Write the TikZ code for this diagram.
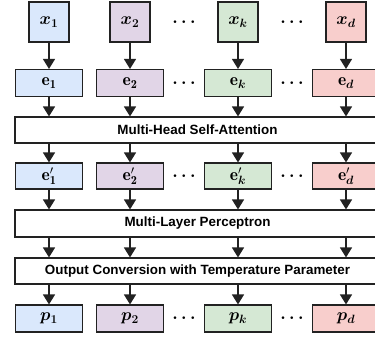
\documentclass[tikz,border=0pt]{standalone}
\usepackage{fontspec}
\usepackage{bm}
\newfontfamily\lbl{Liberation Sans}
\usetikzlibrary{arrows.meta}
\definecolor{bdr}{HTML}{222222}
\definecolor{cblue}{HTML}{DAE8FC}
\definecolor{cpurp}{HTML}{E1D5E7}
\definecolor{cgreen}{HTML}{D5E8D4}
\definecolor{cred}{HTML}{F8CECC}
\begin{document}
\begin{tikzpicture}[x=1pt,y=-1pt,
  box/.style={draw=bdr, line width=1.1pt, inner sep=0pt},
  xin/.style={box, minimum width=40pt, minimum height=40pt, font=\fontsize{17.5}{20}\selectfont},
  emb/.style={box, minimum width=67pt, minimum height=27pt, font=\fontsize{17.5}{20}\selectfont},
  big/.style={box, fill=white, minimum width=365pt, minimum height=26pt, font=\lbl\bfseries\fontsize{13.4}{15}\selectfont},
  arr/.style={line width=1.3pt, draw=bdr, -{Triangle[length=10pt,width=12pt]}},
  dotsn/.style={font=\fontsize{17.5}{20}\selectfont, inner sep=0pt}]
\useasboundingbox (0,0) rectangle (375,337);
\clip (0,0) rectangle (375,337);

% input row
\node[xin, fill=cblue]  (x1) at (49,22)  {$\bm{x_1}$};
\node[xin, fill=cpurp]  (x2) at (130,22) {$\bm{x_2}$};
\node[xin, fill=cgreen] (xk) at (238,22) {$\bm{x_k}$};
\node[xin, fill=cred]   (xd) at (346,22) {$\bm{x_d}$};
\node[dotsn] (dx1) at (184,22) {$\bm{\cdots}$};
\node[dotsn] (dx2) at (292,22) {$\bm{\cdots}$};

% embedding row
\node[emb, fill=cblue]  (e1) at (49,83)  {$\mathbf{e}_{\mathbf{1}}$};
\node[emb, fill=cpurp]  (e2) at (130,83) {$\mathbf{e}_{\mathbf{2}}$};
\node[emb, fill=cgreen] (ek) at (238,83) {$\mathbf{e}_{\bm{k}}$};
\node[emb, fill=cred]   (ed) at (346,83) {$\mathbf{e}_{\bm{d}}$};
\node[dotsn] (de1) at (184,83) {$\bm{\cdots}$};
\node[dotsn] (de2) at (292,83) {$\bm{\cdots}$};

% MHSA
\node[big] (mhsa) at (197.5,130) {Multi-Head Self-Attention};

% e' row
\node[emb, minimum height=26pt, fill=cblue]  (f1) at (49,176)  {$\mathbf{e}'_{\mathbf{1}}$};
\node[emb, minimum height=26pt, fill=cpurp]  (f2) at (130,176) {$\mathbf{e}'_{\mathbf{2}}$};
\node[emb, minimum height=26pt, fill=cgreen] (fk) at (238,176) {$\mathbf{e}'_{\bm{k}}$};
\node[emb, minimum height=26pt, fill=cred]   (fd) at (346,176) {$\mathbf{e}'_{\bm{d}}$};
\node[dotsn] (df1) at (184,176) {$\bm{\cdots}$};
\node[dotsn] (df2) at (292,176) {$\bm{\cdots}$};

% MLP and output conversion
\node[big, minimum height=27pt] (mlp) at (197.5,223.5) {Multi-Layer Perceptron};
\node[big] (oc) at (197.5,271) {Output Conversion with Temperature Parameter};

% p row
\node[emb, fill=cblue]  (p1) at (49,318.5)  {$\bm{p_1}$};
\node[emb, fill=cpurp]  (p2) at (130,318.5) {$\bm{p_2}$};
\node[emb, fill=cgreen] (pk) at (238,318.5) {$\bm{p_k}$};
\node[emb, fill=cred]   (pd) at (346,318.5) {$\bm{p_d}$};
\node[dotsn] (dp1) at (184,318.5) {$\bm{\cdots}$};
\node[dotsn] (dp2) at (292,318.5) {$\bm{\cdots}$};

% connectors
\foreach \a/\b/\c/\p in {x1/e1/f1/p1, x2/e2/f2/p2, xk/ek/fk/pk, xd/ed/fd/pd}{
  \draw[arr] (\a.south) -- (\b.north);
  \draw[arr] (\b.south) -- (\b.south |- mhsa.north);
  \draw[arr] (\c.north |- mhsa.south) -- (\c.north);
  \draw[arr] (\c.south) -- (\c.south |- mlp.north);
  \draw[arr] (\p.north |- mlp.south) -- (\p.north |- oc.north);
  \draw[arr] (\p.north |- oc.south) -- (\p.north);
}
\end{tikzpicture}
\end{document}
